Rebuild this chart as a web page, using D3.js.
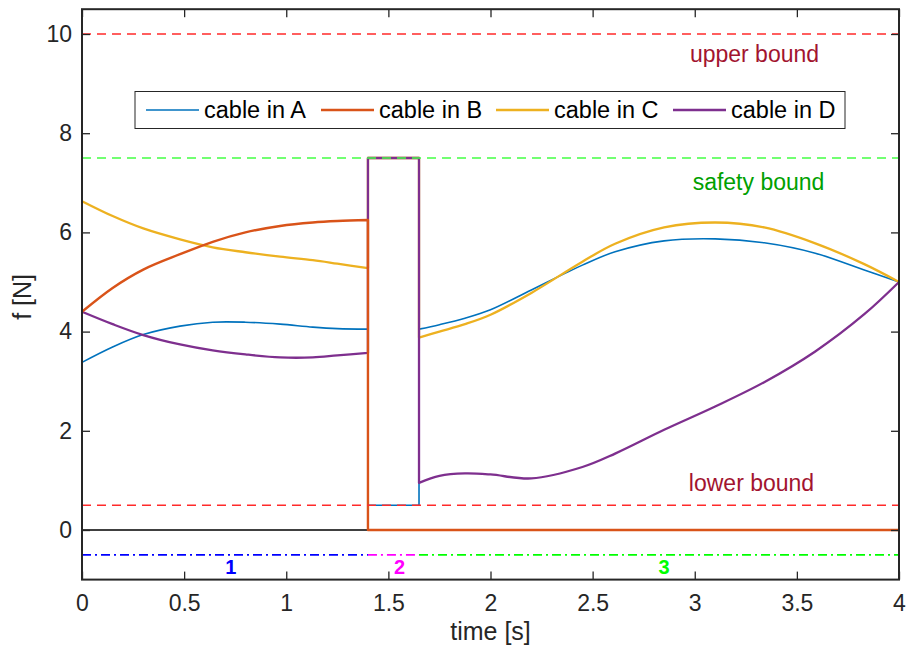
<!DOCTYPE html>
<html>
<head>
<meta charset="utf-8">
<script src="https://cdn.jsdelivr.net/npm/d3@7"></script>
<style>
  body { margin: 0; background: #fff; }
  svg { font-family: "Liberation Sans", Arial, Helvetica, sans-serif; }
</style>
</head>
<body>
<svg id="chart" width="911" height="652"></svg>
<script>
// ---------- data ----------
const xTicks = [0, 0.5, 1, 1.5, 2, 2.5, 3, 3.5, 4];
const yTicks = [0, 2, 4, 6, 8, 10];
const seriesNames = ["cable in A", "cable in B", "cable in C", "cable in D"];
const seriesColors = ["#0072BD", "#D95319", "#EDB120", "#7E2F8E"];
const phaseSwitch = [1.4, 1.65];

// phase 1 samples
const t1 = [0, 0.15, 0.3, 0.48, 0.64, 0.8, 0.97, 1.13, 1.25, 1.4];
const A1 = [3.38, 3.69, 3.94, 4.11, 4.19, 4.19, 4.15, 4.09, 4.06, 4.05];
const B1 = [4.40, 4.88, 5.25, 5.56, 5.81, 6.00, 6.13, 6.20, 6.23, 6.25];
const C1 = [6.63, 6.33, 6.08, 5.86, 5.70, 5.60, 5.51, 5.44, 5.37, 5.28];
const D1 = [4.40, 4.15, 3.93, 3.74, 3.62, 3.54, 3.48, 3.48, 3.52, 3.57];

// phase 2 levels (constant)
const A2 = 0.5, B2 = 0, C2 = 7.5, D2 = 7.5;

// phase 3 samples
const t3 = [1.65, 1.75, 1.875, 2.0, 2.2, 2.45, 2.61, 2.85, 3.1, 3.34, 3.59, 3.83, 4.0];
const A3 = [4.05, 4.14, 4.27, 4.44, 4.84, 5.34, 5.61, 5.83, 5.87, 5.79, 5.58, 5.24, 5.0];
const B3 = [0, 0, 0, 0, 0, 0, 0, 0, 0, 0, 0, 0, 0];
const C3 = [3.88, 4.00, 4.15, 4.34, 4.78, 5.41, 5.77, 6.10, 6.20, 6.10, 5.78, 5.36, 5.0];
const D3 = [0.95, 1.09, 1.14, 1.12, 1.04, 1.27, 1.54, 2.02, 2.49, 2.98, 3.60, 4.35, 5.0];

// bounds
const boundValues = [10, 7.5, 0.5];
const boundLabels = ["upper bound", "safety bound", "lower bound"];
const phaseLabels = ["1", "2", "3"];
const phaseLevel = -0.5;

// ---------- layout ----------
const svg = d3.select("#chart");
const L = 82, R = 899, T = 9.2, B = 579.6;
const x = d3.scaleLinear().domain([0, 4]).range([L, R]);
const y = d3.scaleLinear().domain([-1, 10.5]).range([B, T]);
const axisColor = "#262626";
const FS = 23;

const g = svg.append("g");

// zero black line
g.append("line")
  .attr("x1", x(0)).attr("x2", x(4)).attr("y1", y(0)).attr("y2", y(0))
  .attr("stroke", "#000").attr("stroke-width", 1.5);

// phase dash-dot lines
const phaseColors = ["#0000FF", "#FF00FF", "#00FF00"];
const phaseBounds = [[0, phaseSwitch[0]], [phaseSwitch[0], phaseSwitch[1]], [phaseSwitch[1], 4]];
phaseBounds.forEach((pb, i) => {
  g.append("line")
    .attr("x1", x(pb[0])).attr("x2", x(pb[1]))
    .attr("y1", y(phaseLevel)).attr("y2", y(phaseLevel))
    .attr("stroke", phaseColors[i]).attr("stroke-width", 1.8)
    .attr("stroke-dasharray", "9,4,2,4");
});
const phaseLabelX = [0.728, 1.555, 2.85];
phaseLabels.forEach((lab, i) => {
  g.append("text").attr("x", x(phaseLabelX[i])).attr("y", y(-0.75))
    .attr("text-anchor", "middle").attr("dominant-baseline", "central")
    .attr("font-size", 20).attr("font-weight", "bold")
    .attr("fill", phaseColors[i]).text(lab);
});

// series paths
const smooth = d3.line().x(d => x(d[0])).y(d => y(d[1])).curve(d3.curveCatmullRom.alpha(0.5));
function seriesPath(p1, lvl2, p3) {
  const s1 = smooth(t1.map((t, i) => [t, p1[i]]));
  const s3 = smooth(t3.map((t, i) => [t, p3[i]]));
  const mid = `L${x(phaseSwitch[0])},${y(lvl2)}L${x(phaseSwitch[1])},${y(lvl2)}`;
  return s1 + mid + "L" + s3.slice(1);
}
const paths = [
  seriesPath(A1, A2, A3),
  seriesPath(B1, B2, B3),
  seriesPath(C1, C2, C3),
  seriesPath(D1, D2, D3)
];
const widths = [1.6, 2.4, 2.3, 2.3];
// draw order: A, C, D, B
[0, 2, 3, 1].forEach(i => {
  g.append("path").attr("d", paths[i]).attr("fill", "none")
    .attr("stroke", seriesColors[i]).attr("stroke-width", widths[i])
    .attr("stroke-linejoin", "round");
});

// bound lines
const boundColors = ["#FF2A2A", "#44FF44", "#FF2A2A"];
const boundTextColors = ["#A2142F", "#00A000", "#A2142F"];
const boundTextX = [754.5, 758.5, 751.5];
const boundTextBase = [62, 190, 491];
boundValues.forEach((v, i) => {
  g.append("line").attr("x1", x(0)).attr("x2", x(4)).attr("y1", y(v)).attr("y2", y(v))
    .attr("stroke", boundColors[i]).attr("stroke-width", 1.5).attr("stroke-dasharray", "9,6");
  g.append("text").attr("x", boundTextX[i]).attr("y", boundTextBase[i])
    .attr("text-anchor", "middle")
    .attr("font-size", FS).attr("fill", boundTextColors[i]).text(boundLabels[i]);
});

// axes
const xAxis = d3.axisBottom(x).tickValues(xTicks).tickSize(-8).tickPadding(15).tickFormat(d3.format("~g"));
const yAxis = d3.axisLeft(y).tickValues(yTicks).tickSize(-8).tickPadding(10);
const gx = svg.append("g").attr("transform", `translate(0,${B})`).call(xAxis);
const gy = svg.append("g").attr("transform", `translate(${L},0)`).call(yAxis);
[gx, gy].forEach(a => {
  a.attr("font-size", FS).attr("font-family", "'Liberation Sans', Arial, sans-serif");
  a.select(".domain").remove();
  a.selectAll(".tick line").attr("stroke", axisColor).attr("stroke-width", 1.3);
  a.selectAll(".tick text").attr("fill", axisColor);
});
// mirrored ticks top/right
const gxTop = svg.append("g").attr("transform", `translate(0,${T})`)
  .call(d3.axisTop(x).tickValues(xTicks).tickSize(-8).tickFormat(""));
const gyRight = svg.append("g").attr("transform", `translate(${R},0)`)
  .call(d3.axisRight(y).tickValues(yTicks).tickSize(-8).tickFormat(""));
[gxTop, gyRight].forEach(a => {
  a.select(".domain").remove();
  a.selectAll(".tick line").attr("stroke", axisColor).attr("stroke-width", 1.3);
});
// axes box
svg.append("rect").attr("x", L).attr("y", T).attr("width", R - L).attr("height", B - T)
  .attr("fill", "none").attr("stroke", axisColor).attr("stroke-width", 2);

// axis labels
svg.append("text").attr("x", (L + R) / 2).attr("y", 640).attr("text-anchor", "middle")
  .attr("font-size", 25).attr("fill", axisColor).text("time [s]");
svg.append("text").attr("transform", `translate(22,${y(4.7)}) rotate(-90)`)
  .attr("text-anchor", "middle").attr("dominant-baseline", "central")
  .attr("font-size", 25).attr("fill", axisColor).text("f [N]");

// legend
const lg = svg.append("g");
lg.append("rect").attr("x", 135).attr("y", 91.5).attr("width", 710).attr("height", 37)
  .attr("fill", "#fff").attr("stroke", axisColor).attr("stroke-width", 1);
const legX = [146, 321, 496, 673];
seriesNames.forEach((n, i) => {
  lg.append("line").attr("x1", legX[i]).attr("x2", legX[i] + 53)
    .attr("y1", 110).attr("y2", 110).attr("stroke", seriesColors[i]).attr("stroke-width", i === 0 ? 1.6 : 2.3);
  lg.append("text").attr("x", legX[i] + 58).attr("y", 110).attr("dominant-baseline", "central")
    .attr("font-size", FS + 0.5).attr("fill", "#000").text(n);
});
</script>
</body>
</html>
